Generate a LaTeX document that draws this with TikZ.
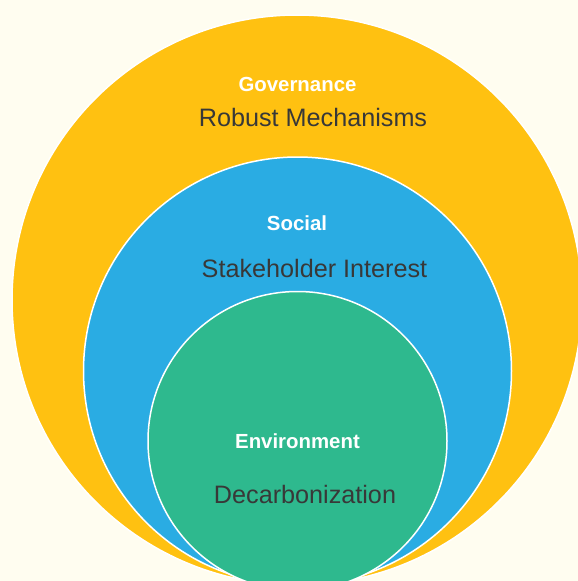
\documentclass[tikz,border=0pt]{standalone}
\usepackage{fontspec}
\setmainfont{Liberation Sans}
\definecolor{bgcream}{HTML}{FFFDF0}
\definecolor{govyellow}{HTML}{FFC111}
\definecolor{socblue}{HTML}{2AACE3}
\definecolor{envgreen}{HTML}{2EB98E}
\definecolor{bodygray}{HTML}{383838}
\begin{document}
\begin{tikzpicture}[x=1pt,y=-1pt,
  ring/.style={draw=white,line width=1.5pt},
  head/.style={anchor=base,text=white,font=\fontsize{20.4}{24}\selectfont\bfseries,inner sep=0pt},
  body/.style={anchor=base,text=bodygray,font=\fontsize{25.2}{30}\selectfont,inner sep=0pt}]
\fill[bgcream] (0,0) rectangle (578,581);
\useasboundingbox (0,0) rectangle (578,581);
\clip (0,0) rectangle (578,581);
\filldraw[ring,fill=govyellow] (297,300) circle[radius=285];
\filldraw[ring,fill=socblue] (297.5,371) circle[radius=214];
\filldraw[ring,fill=envgreen] (297.5,441) circle[radius=149.5];
\node[head] (gov) at (297.5,91.5) {Governance};
\node[body] (govtxt) at (313,126.7) {Robust Mechanisms};
\node[head] (soc) at (297,230.7) {Social};
\node[body] (soctxt) at (314.5,277.3) {Stakeholder Interest};
\node[head] (env) at (297.5,448.3) {Environment};
\node[body] (envtxt) at (305,503.3) {Decarbonization};
\end{tikzpicture}
\end{document}
